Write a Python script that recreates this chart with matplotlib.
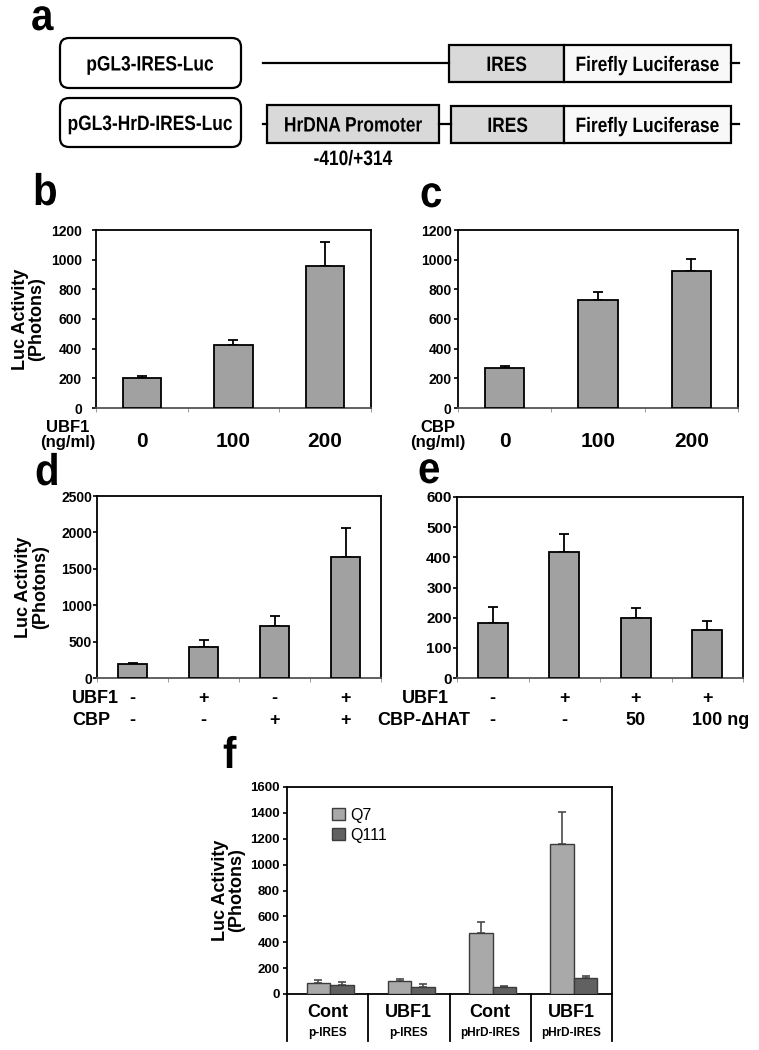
import matplotlib
matplotlib.use("Agg")
import matplotlib.pyplot as plt
from matplotlib import transforms
from matplotlib.patches import FancyBboxPatch, Rectangle
from matplotlib.patheffects import AbstractPathEffect
from matplotlib.transforms import Affine2D
import numpy as np

W, H = 759, 1050

plt.rcParams['font.family'] = ['Liberation Sans', 'DejaVu Sans']
plt.rcParams['font.weight'] = 'bold'
plt.rcParams['axes.linewidth'] = 1.3

# panel b: UBF1 dose
b_doses = ['0', '100', '200']
b_values = [205, 428, 959]
b_errors = [9, 29, 162]
# panel c: CBP dose
c_doses = ['0', '100', '200']
c_values = [267, 727, 926]
c_errors = [18, 53, 76]
# panel d: UBF1 / CBP combinations
d_ubf1 = ['-', '+', '-', '+']
d_cbp = ['-', '-', '+', '+']
d_values = [190, 420, 710, 1665]
d_errors = [20, 100, 137, 395]
# panel e: UBF1 / CBP-dHAT
e_ubf1 = ['-', '+', '+', '+']
e_hat = ['-', '-', '50', '100 ng']
e_values = [183, 417, 200, 159]
e_errors = [53, 59, 33, 30]
# panel f: Q7 vs Q111
f_groups = ['Cont', 'UBF1', 'Cont', 'UBF1']
f_plasmids = ['p-IRES', 'p-IRES', 'pHrD-IRES', 'pHrD-IRES']
f_q7 = [87, 98, 468, 1157]
f_q7_err = [21, 18, 90, 249]
f_q111 = [67, 57, 57, 121]
f_q111_err = [28, 20, 7, 18]


class Tall(AbstractPathEffect):
    """stretch glyphs upward from their baseline (the scheme text is narrow and tall)"""

    def __init__(self, sy):
        super().__init__()
        self.sy = sy

    def draw_path(self, renderer, gc, tpath, affine, rgbFace=None):
        renderer.draw_path(gc, tpath, Affine2D().scale(1, self.sy) + affine, rgbFace)


TALL = [Tall(1.2)]

fig = plt.figure(figsize=(W / 100, H / 100), dpi=100)


def px_axes(x0, y0, x1, y1):
    return fig.add_axes([x0 / W, 1 - y1 / H, (x1 - x0) / W, (y1 - y0) / H])


def fy(ypx):
    return 1 - ypx / H


# ---- panel a: construct diagram (pixel coordinates) ----
ax_a = fig.add_axes([0, 0, 1, 1])
ax_a.set_xlim(0, W)
ax_a.set_ylim(H, 0)
ax_a.axis('off')

for y0, h, label in [(38, 50, 'pGL3-IRES-Luc'), (98, 49, 'pGL3-HrD-IRES-Luc')]:
    ax_a.add_patch(FancyBboxPatch((60, y0), 181, h, boxstyle='round,pad=0,rounding_size=9',
                                  fc='white', ec='black', lw=1.6))
    ax_a.text(150, y0 + h / 2 + 7.5, label, ha='center', va='baseline', fontsize=12.5,
              path_effects=TALL)

ax_a.plot([263, 449], [63, 63], color='black', lw=1.6)
ax_a.plot([731, 739], [63, 63], color='black', lw=1.6)
ax_a.plot([263, 267], [124, 124], color='black', lw=1.6)
ax_a.plot([439, 451], [124, 124], color='black', lw=1.6)
ax_a.plot([731, 739], [124, 124], color='black', lw=1.6)

boxes = [(449, 45, 115, 37, '#d9d9d9', 'IRES'),
         (564, 45, 167, 37, '#f8f8f8', 'Firefly Luciferase'),
         (267, 105, 172, 38, '#d9d9d9', 'HrDNA Promoter'),
         (451, 106, 113, 37, '#d9d9d9', 'IRES'),
         (564, 106, 167, 37, '#f8f8f8', 'Firefly Luciferase')]
for x0, y0, w, h, fc, label in boxes:
    ax_a.add_patch(Rectangle((x0, y0), w, h, fc=fc, ec='black', lw=1.6))
    ax_a.text(x0 + w / 2, y0 + h / 2 + 7.5, label, ha='center', va='baseline', fontsize=12.5,
              path_effects=TALL)
ax_a.text(353, 165, '-410/+314', ha='center', va='baseline', fontsize=12.5, path_effects=TALL)

# panel letters
for lx, ly, letter in [(31, 30, 'a'), (33, 205, 'b'), (420, 207, 'c'),
                       (35, 485, 'd'), (418, 483, 'e'), (223, 768, 'f')]:
    fig.text(lx / W, fy(ly), letter, fontsize=29, fontweight='bold', ha='left', va='baseline',
             path_effects=[Tall(1.1)])


def bar_panel(ax, values, errors, ymax, step, tick_size, tick_pad):
    n = len(values)
    x = np.arange(n)
    ax.bar(x, values, width=0.42, color='#a1a1a1', edgecolor='black', linewidth=1.3, zorder=3)
    ax.errorbar(x, values, yerr=[np.zeros(n), errors], fmt='none', ecolor='black',
                elinewidth=1.3, capsize=3.5, capthick=1.3, zorder=2)
    ax.set_xlim(-0.5, n - 0.5)
    ax.set_ylim(0, ymax)
    ax.set_yticks(np.arange(0, ymax + 1, step))
    ax.tick_params(axis='y', direction='out', length=3, width=1.2, labelsize=tick_size, pad=tick_pad)
    ax.set_xticks([])
    ax.set_xticks(np.arange(-0.5, n), minor=True)
    ax.tick_params(axis='x', which='minor', direction='out', length=3, color='#888888')
    ax.spines['bottom'].set_color('#555555')
    for lab in ax.get_yticklabels():
        lab.set_fontweight('bold')
    return x


def row_text(ax, xs, labels, ypx, size, dx=0):
    tr = transforms.blended_transform_factory(ax.transData, fig.transFigure)
    offset = transforms.ScaledTranslation(dx / 100, 0, fig.dpi_scale_trans)
    for xv, lab in zip(xs, labels):
        ax.text(xv, fy(ypx), lab, transform=tr + offset if dx else tr, ha='center',
                va='baseline', fontsize=size, fontweight='bold', clip_on=False)


def side_text(xpx, ypx, label, size=12, ha='center'):
    fig.text(xpx / W, fy(ypx), label, ha=ha, va='baseline', fontsize=size, fontweight='bold')


# ---- panel b ----
ax_b = px_axes(96, 230, 371, 408)
xb = bar_panel(ax_b, b_values, b_errors, 1200, 200, 10, 7)
ax_b.set_ylabel('Luc Activity\n(Photons)', fontsize=13, fontweight='bold', labelpad=4,
                linespacing=0.95)
row_text(ax_b, xb, b_doses, 447, 15)
side_text(68, 432, 'UBF1')
side_text(68, 447, '(ng/ml)')

# ---- panel c ----
ax_c = px_axes(458, 230, 738, 408)
xc = bar_panel(ax_c, c_values, c_errors, 1200, 200, 10, 1.5)
row_text(ax_c, xc, c_doses, 447, 15)
side_text(438, 432, 'CBP')
side_text(438, 447, '(ng/ml)')

# ---- panel d ----
ax_d = px_axes(97, 496, 381, 678)
xd = bar_panel(ax_d, d_values, d_errors, 2500, 500, 10, 0.5)
ax_d.set_ylabel('Luc Activity\n(Photons)', fontsize=13, fontweight='bold', labelpad=9,
                linespacing=0.95)
row_text(ax_d, xd, d_ubf1, 703, 13)
row_text(ax_d, xd, d_cbp, 725, 13)
side_text(72, 703, 'UBF1', 13, 'left')
side_text(72, 725, 'CBP', 13, 'left')

# ---- panel e ----
ax_e = px_axes(457, 497, 743, 678)
xe = bar_panel(ax_e, e_values, e_errors, 600, 100, 11, 0.8)
row_text(ax_e, xe, e_ubf1, 703, 13)
row_text(ax_e, xe[:3], e_hat[:3], 725, 13)
row_text(ax_e, xe[3:], e_hat[3:], 725, 13, dx=13)
side_text(425, 703, 'UBF1', 13)
side_text(424, 725, 'CBP-\u0394HAT', 13)

# ---- panel f ----
ax_f = px_axes(287, 787, 612, 994)
xf = np.arange(len(f_groups))
bw = 0.29
ax_f.bar(xf - bw / 2 + 0.03, f_q7, width=bw, color='#a9a9a9', edgecolor='#3c3c3c', linewidth=1.0,
         label='Q7', zorder=3)
ax_f.bar(xf + bw / 2 + 0.03, f_q111, width=bw, color='#616161', edgecolor='#3c3c3c', linewidth=1.0,
         label='Q111', zorder=3)
ax_f.errorbar(xf - bw / 2 + 0.03, f_q7, yerr=[np.zeros(4), f_q7_err], fmt='none', ecolor='#4a4a4a',
              elinewidth=1.2, capsize=3, capthick=1.2, zorder=2)
ax_f.errorbar(xf + bw / 2 + 0.03, f_q111, yerr=[np.zeros(4), f_q111_err], fmt='none', ecolor='#4a4a4a',
              elinewidth=1.2, capsize=3, capthick=1.2, zorder=2)
ax_f.set_xlim(-0.5, 3.5)
ax_f.set_ylim(0, 1600)
ax_f.set_yticks(np.arange(0, 1601, 200))
ax_f.set_xticks([])
ax_f.tick_params(axis='y', direction='out', length=3, width=1.2, labelsize=9.5, pad=2)
for lab in ax_f.get_yticklabels():
    lab.set_fontweight('bold')
ax_f.set_ylabel('Luc Activity\n(Photons)', fontsize=13, fontweight='bold', labelpad=4,
                linespacing=0.95)
tr_f = transforms.blended_transform_factory(ax_f.transData, ax_f.transAxes)
for sep in np.arange(-0.5, 4):
    ax_f.plot([sep, sep], [0, -47 / 207], color='black', lw=1.3, transform=tr_f, clip_on=False)
row_text(ax_f, xf, f_groups, 1017, 13)
row_text(ax_f, xf, f_plasmids, 1036, 8.5)
leg = ax_f.legend(loc='upper left', bbox_to_anchor=(0.12, 0.93), frameon=False, fontsize=11.5,
                  handlelength=0.8, handleheight=0.8, handletextpad=0.3, labelspacing=0.3,
                  borderaxespad=0)
for t in leg.get_texts():
    t.set_fontweight('normal')

fig.savefig('out.png', dpi=100)
